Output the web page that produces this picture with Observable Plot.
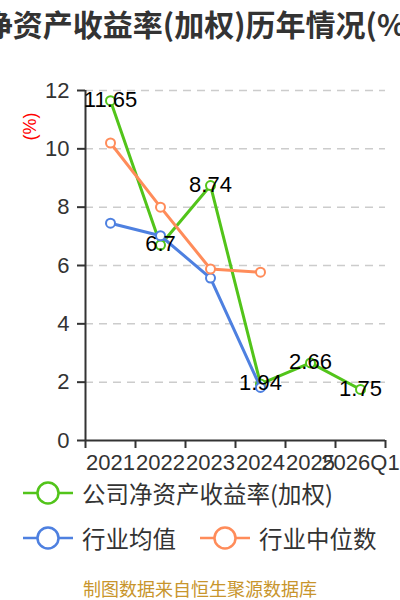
<!DOCTYPE html>
<html>
<head>
<meta charset="utf-8">
<script src="https://cdn.jsdelivr.net/npm/d3@7"></script>
<script src="https://cdn.jsdelivr.net/npm/@observablehq/plot@0.6"></script>
<style>
  html, body { margin: 0; padding: 0; background: #fff; }
  body { position: relative; width: 400px; height: 600px; overflow: hidden; font-family: "Noto Sans CJK SC", "Liberation Sans", sans-serif; }
  #title { position: absolute; left: 0; top: 0; width: 400px; height: 46px; display: flex; justify-content: center; overflow: hidden; white-space: nowrap; font-size: 30px; font-weight: bold; color: #333; line-height: 46px; }
  #title span { flex: none; }
  #chart { position: absolute; left: 0; top: 50px; }
  .legend-row { position: absolute; left: 0; height: 46px; line-height: 46px; font-size: 23.5px; color: #333; white-space: nowrap; }
  .legend-item { position: absolute; top: 0; height: 46px; }
  .legend-item svg { position: absolute; top: 11px; left: 0; }
  .legend-item span { position: absolute; left: 60px; top: 0; }
  #footer { position: absolute; left: 0; top: 576px; width: 400px; text-align: center; font-size: 18px; line-height: 24px; color: #c8952c; }
</style>
</head>
<body>
<div id="title"><span>净资产收益率(加权)历年情况(%)</span></div>
<div id="chart"></div>
<div class="legend-row" id="row1" style="top:470px; width:400px;"></div>
<div class="legend-row" id="row2" style="top:515px; width:400px;"></div>
<div id="footer">制图数据来自恒生聚源数据库</div>
<script>
// ---- data ----
const categories = ["2021", "2022", "2023", "2024", "2025", "2026Q1"];
const companyROE = [11.65, 6.7, 8.74, 1.94, 2.66, 1.75];
const industryMean = [7.45, 7.02, 5.57, 1.82];
const industryMedian = [10.2, 8.0, 5.88, 5.77];
const yTicks = [0, 2, 4, 6, 8, 10, 12];
const seriesNames = ["公司净资产收益率(加权)", "行业均值", "行业中位数"];
const seriesColors = ["#52c41a", "#4e80e0", "#ff8c5a"];

const toRows = (vals) => vals.map((v, i) => ({i, v}));
const company = toRows(companyROE);
const mean = toRows(industryMean);
const median = toRows(industryMedian);
const gridVals = yTicks.filter(d => d > 0);
const bounds = d3.range(categories.length + 1).map(i => i - 0.5);
const centers = d3.range(categories.length);

const numFont = "'Liberation Sans', Arial, sans-serif";

const chart = Plot.plot({
  width: 400,
  height: 430,
  marginTop: 40,
  marginBottom: 40,
  marginLeft: 85,
  marginRight: 15,
  style: {fontFamily: numFont, fontSize: "22px", color: "#333", background: "transparent", overflow: "visible"},
  x: {type: "linear", domain: [-0.5, categories.length - 0.5], label: null},
  y: {domain: [0, 12], label: null},
  marks: [
    Plot.ruleY(gridVals, {stroke: "#cccccc", strokeWidth: 1.5, strokeDasharray: "8,6"}),
    Plot.axisY(yTicks, {tickSize: 8, tickPadding: 8, fontSize: 22, stroke: "#333", strokeWidth: 2, fill: "#333", label: null}),
    Plot.axisX(bounds, {tickSize: 8, tickFormat: () => "", stroke: "#333", strokeWidth: 2, label: null}),
    Plot.axisX(centers, {tickSize: 0, tickPadding: 14, fontSize: 22, fill: "#333", tickFormat: i => categories[i], label: null}),
    Plot.ruleX([-0.5], {y1: 0, y2: 12, stroke: "#333", strokeWidth: 2}),
    Plot.ruleY([0], {stroke: "#333", strokeWidth: 2}),
    Plot.text(["(%)"], {frameAnchor: "top-left", dx: -62, dy: 36, rotate: -90, text: d => d, fill: "red", fontSize: 18, textAnchor: "middle"}),
    Plot.line(company, {x: "i", y: "v", stroke: seriesColors[0], strokeWidth: 3}),
    Plot.dot(company, {x: "i", y: "v", r: 4.5, fill: "white", stroke: seriesColors[0], strokeWidth: 2}),
    Plot.line(mean, {x: "i", y: "v", stroke: seriesColors[1], strokeWidth: 3}),
    Plot.dot(mean, {x: "i", y: "v", r: 4.5, fill: "white", stroke: seriesColors[1], strokeWidth: 2}),
    Plot.line(median, {x: "i", y: "v", stroke: seriesColors[2], strokeWidth: 3}),
    Plot.dot(median, {x: "i", y: "v", r: 4.5, fill: "white", stroke: seriesColors[2], strokeWidth: 2}),
    Plot.text(company, {x: "i", y: "v", text: d => String(d.v), fontSize: 22, fill: "black", dy: -1})
  ]
});
document.getElementById("chart").appendChild(chart);

// ---- legend ----
function legendItem(name, color, left) {
  const item = document.createElement("div");
  item.className = "legend-item";
  item.style.left = left + "px";
  item.innerHTML = `<svg width="52" height="24" viewBox="0 0 52 24">
      <line x1="1" y1="12" x2="51" y2="12" stroke="${color}" stroke-width="2.5"/>
      <circle cx="26" cy="12" r="10.5" fill="white" stroke="${color}" stroke-width="2.5"/>
    </svg><span>${name}</span>`;
  return item;
}
document.getElementById("row1").appendChild(legendItem(seriesNames[0], seriesColors[0], 22));
document.getElementById("row2").appendChild(legendItem(seriesNames[1], seriesColors[1], 22));
document.getElementById("row2").appendChild(legendItem(seriesNames[2], seriesColors[2], 199));
</script>
</body>
</html>
